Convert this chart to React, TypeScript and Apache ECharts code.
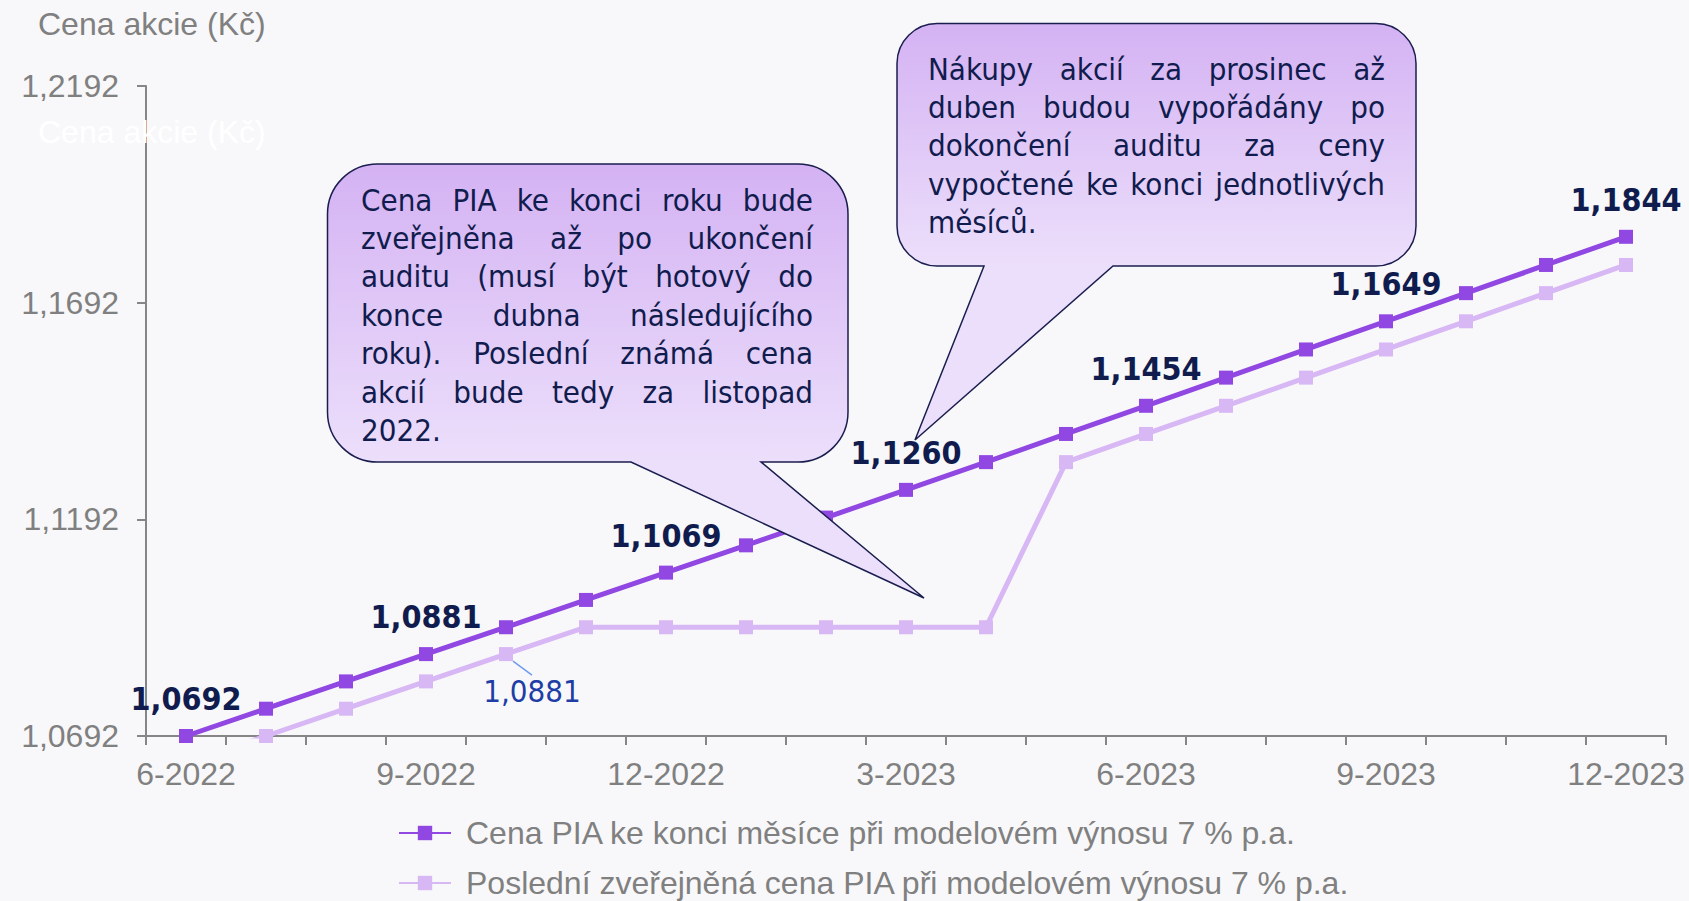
import React, { useEffect, useRef } from 'react';
import * as echarts from 'echarts';

const months = ['6-2022', '7-2022', '8-2022', '9-2022', '10-2022', '11-2022', '12-2022', '1-2023', '2-2023', '3-2023', '4-2023', '5-2023', '6-2023', '7-2023', '8-2023', '9-2023', '10-2023', '11-2023', '12-2023'];
const monthEndPrice = [1.0692, 1.0755, 1.0818, 1.0881, 1.0943, 1.1006, 1.1069, 1.1132, 1.1196, 1.126, 1.1324, 1.1389, 1.1454, 1.1519, 1.1584, 1.1649, 1.1714, 1.1779, 1.1844];
const lastPublishedPrice = [1.0629, 1.0692, 1.0755, 1.0818, 1.0881, 1.0943, 1.0943, 1.0943, 1.0943, 1.0943, 1.0943, 1.1324, 1.1389, 1.1454, 1.1519, 1.1584, 1.1649, 1.1714, 1.1779];
const labeledMonths = ['6-2022', '9-2022', '12-2022', '3-2023', '6-2023', '9-2023', '12-2023'];
const labeledPublishedMonths = ['10-2022'];
const yTicks = [1.0692, 1.1192, 1.1692, 1.2192];
const seriesNames = [
  'Cena PIA ke konci měsíce při modelovém výnosu 7 % p.a.',
  'Poslední zveřejněná cena PIA při modelovém výnosu 7 % p.a.',
];
const axisTitle = 'Cena akcie (Kč)';
const note1Lines = [
  'Cena PIA ke konci roku bude',
  'zveřejněna až po ukončení',
  'auditu (musí být hotový do',
  'konce dubna následujícího',
  'roku). Poslední známá cena',
  'akcií bude tedy za listopad',
  '2022.',
];
const note2Lines = [
  'Nákupy akcií za prosinec až',
  'duben budou vypořádány po',
  'dokončení auditu za ceny',
  'vypočtené ke konci jednotlivých',
  'měsíců.',
];

const DARK = '#9148E2';
const LIGHT = '#D8B7F5';
const NAVY = '#111C4E';
const GRAY = '#808080';
const AXIS = '#868686';
const ARIAL = '"Liberation Sans", Arial, sans-serif';
const TAHOMA = '"DejaVu Sans Condensed", "DejaVu Sans", sans-serif';

const fmt = (v: number) => v.toFixed(4).replace('.', ',');

function calloutPath(L: number, T: number, R: number, B: number, r: number, x1: number, x2: number, tx: number, ty: number) {
  return `M${L + r} ${T}H${R - r}A${r} ${r} 0 0 1 ${R} ${T + r}V${B - r}A${r} ${r} 0 0 1 ${R - r} ${B}H${x2}L${tx} ${ty}L${x1} ${B}H${L + r}A${r} ${r} 0 0 1 ${L} ${B - r}V${T + r}A${r} ${r} 0 0 1 ${L + r} ${T}Z`;
}

function justified(lines: string[], left: number, right: number, firstY: number, gapY: number, fontSize: number) {
  const canvas = document.createElement('canvas');
  const ctx = canvas.getContext('2d')!;
  ctx.font = `${fontSize}px ${TAHOMA}`;
  const out: any[] = [];
  const base = { fontSize, fontFamily: TAHOMA, fill: NAVY, verticalAlign: 'middle', align: 'left' };
  lines.forEach((line, i) => {
    const y = firstY + i * gapY;
    const words = line.split(' ');
    if (i === lines.length - 1 || words.length === 1) {
      out.push({ type: 'text', x: left, y, z: 101, style: { ...base, text: line } });
      return;
    }
    const widths = words.map((w) => ctx.measureText(w).width);
    const total = widths.reduce((a, b) => a + b, 0);
    const gap = (right - left - total) / (words.length - 1);
    let x = left;
    words.forEach((w, j) => {
      out.push({ type: 'text', x, y, z: 101, style: { ...base, text: w } });
      x += widths[j] + gap;
    });
  });
  return out;
}

export default function App() {
  const ref = useRef<HTMLDivElement>(null);
  useEffect(() => {
    document.body.style.margin = '0';
    const chart = echarts.init(ref.current!, undefined, { renderer: 'svg' });

    echarts.graphic.registerShape('calloutA', echarts.graphic.extendPath(calloutPath(327.5, 164, 848, 462, 50, 631, 761, 924, 598), {}));
    echarts.graphic.registerShape('calloutB', echarts.graphic.extendPath(calloutPath(897, 23.5, 1416, 266, 40, 984, 1113, 915, 440), {}));

    const grad = (t: number, b: number) =>
      new echarts.graphic.LinearGradient(0, t, 0, b, [
        { offset: 0, color: '#D4B2F3' },
        { offset: 1, color: '#ECDFFB' },
      ], true);

    const option: any = {
      animation: false,
      backgroundColor: '#F8F8FA',
      grid: { left: 146, right: 23, top: 86, bottom: 165, containLabel: false },
      xAxis: {
        type: 'category',
        data: months,
        boundaryGap: true,
        axisLine: { show: true, lineStyle: { color: AXIS, width: 2 } },
        axisTick: { show: true, interval: 0, length: 9, lineStyle: { color: AXIS, width: 2 } },
        axisLabel: { interval: 2, fontSize: 32, color: GRAY, fontFamily: ARIAL, margin: 22 },
        splitLine: { show: false },
      },
      yAxis: {
        type: 'value',
        min: yTicks[0],
        max: yTicks[yTicks.length - 1],
        axisLine: { show: true, lineStyle: { color: AXIS, width: 2 } },
        axisTick: { show: true, length: 9, lineStyle: { color: AXIS, width: 2 }, customValues: yTicks },
        axisLabel: { fontSize: 32, color: GRAY, fontFamily: ARIAL, margin: 27, customValues: yTicks, formatter: (v: number) => fmt(v) },
        splitLine: { show: false },
      },
      legend: {
        orient: 'vertical',
        left: 398,
        top: 817,
        height: 84,
        padding: 0,
        itemWidth: 52,
        itemHeight: 18,
        itemGap: 18,
        align: 'left',
        selectedMode: false,
        data: seriesNames,
        textStyle: { fontSize: 32, color: GRAY, fontFamily: ARIAL, padding: [0, 0, 0, 10] },
      },
      series: [
        {
          name: seriesNames[0],
          type: 'line',
          data: months.map((m, i) => ({ value: monthEndPrice[i], label: { show: labeledMonths.includes(m) } })),
          symbol: 'rect',
          symbolSize: 14,
          lineStyle: { width: 5, color: DARK },
          itemStyle: { color: DARK },
          emphasis: { disabled: true },
          label: {
            show: false,
            position: 'top',
            distance: 14,
            fontSize: 32,
            fontWeight: 'bold',
            fontFamily: TAHOMA,
            color: NAVY,
            formatter: (p: any) => fmt(p.value),
          },
          z: 3,
        },
        {
          name: seriesNames[1],
          type: 'line',
          data: months.map((m, i) => ({ value: lastPublishedPrice[i], label: { show: labeledPublishedMonths.includes(m) } })),
          symbol: 'rect',
          symbolSize: 14,
          lineStyle: { width: 5, color: LIGHT },
          itemStyle: { color: LIGHT },
          emphasis: { disabled: true },
          label: {
            show: false,
            position: 'bottom',
            distance: 14,
            fontSize: 31,
            fontFamily: TAHOMA,
            color: '#1E3EA6',
            formatter: (p: any) => fmt(p.value),
          },
          labelLayout: { dx: 26 },
          labelLine: { show: true, lineStyle: { color: '#6E9CEB', width: 1.5 } },
          z: 2,
        },
      ],
      graphic: [
        { type: 'text', x: 38, y: 24, z: 101, style: { text: axisTitle, fontSize: 32, fontFamily: ARIAL, fill: GRAY, verticalAlign: 'middle' } },
        { type: 'text', x: 38, y: 132, z: 101, style: { text: axisTitle, fontSize: 32, fontFamily: ARIAL, fill: '#FFFFFF', verticalAlign: 'middle' } },
        { type: 'calloutA', x: 0, y: 0, z: 100, style: { fill: grad(164, 462), stroke: '#1A1E4E', lineWidth: 1.5 } },
        { type: 'calloutB', x: 0, y: 0, z: 100, style: { fill: grad(23.5, 266), stroke: '#1A1E4E', lineWidth: 1.5 } },
        ...justified(note1Lines, 361, 813, 199.5, 38.4, 31),
        ...justified(note2Lines, 928, 1385, 68.7, 38.3, 31),
      ],
    };
    chart.setOption(option);
    return () => chart.dispose();
  }, []);
  return <div ref={ref} style={{ width: 1689, height: 901 }} />;
}
